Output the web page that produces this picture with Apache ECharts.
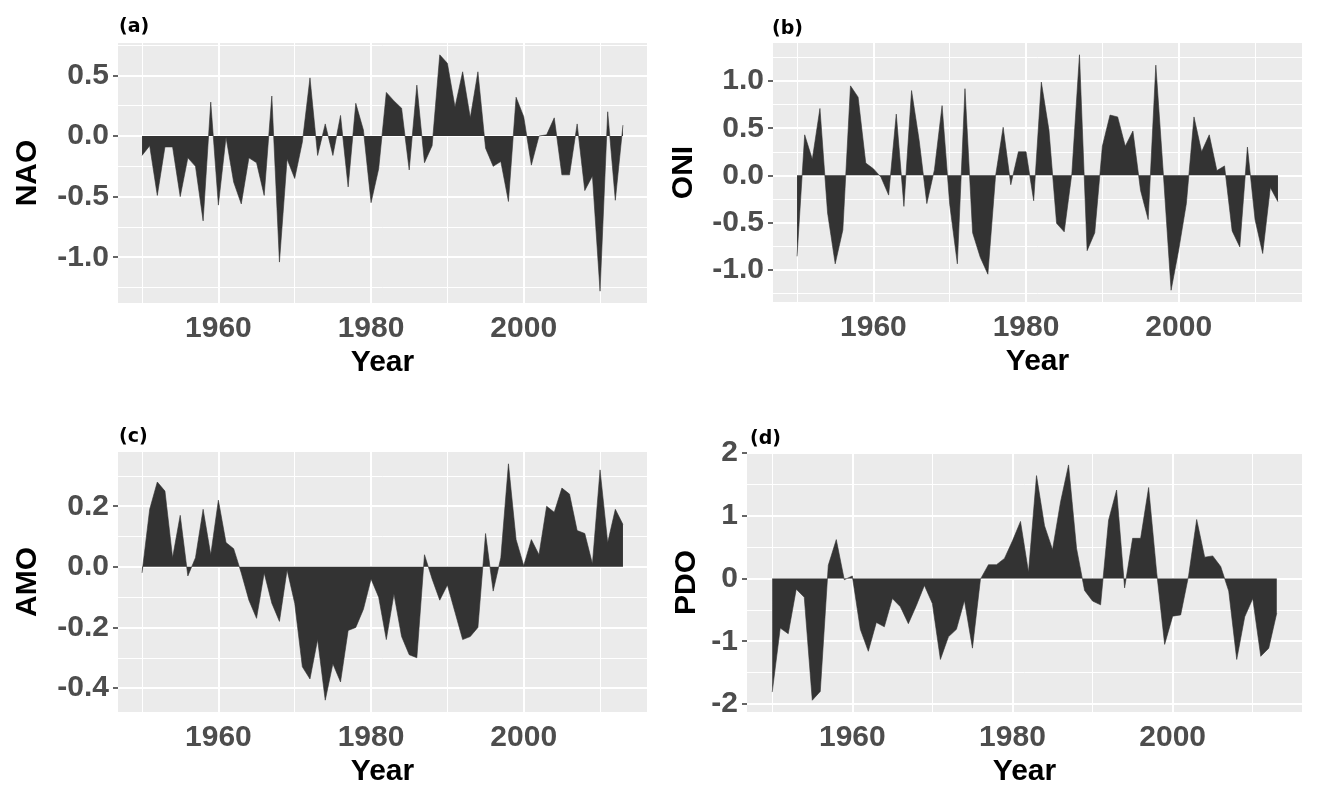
<!DOCTYPE html>
<html><head><meta charset="utf-8">
<script src="https://cdn.jsdelivr.net/npm/echarts@6/dist/echarts.min.js"></script>
<style>html,body{margin:0;padding:0;background:#fff}#c{width:1319px;height:802px}</style>
</head><body><div id="c"></div>
<script>
// ---- data (years 1950-2013) ----
const years = [1950,1951,1952,1953,1954,1955,1956,1957,1958,1959,1960,1961,1962,1963,1964,1965,1966,1967,1968,1969,
  1970,1971,1972,1973,1974,1975,1976,1977,1978,1979,1980,1981,1982,1983,1984,1985,1986,1987,1988,1989,
  1990,1991,1992,1993,1994,1995,1996,1997,1998,1999,2000,2001,2002,2003,2004,2005,2006,2007,2008,2009,
  2010,2011,2012,2013];
const nao = [-0.16,-0.08,-0.49,-0.09,-0.09,-0.50,-0.18,-0.25,-0.70,0.28,-0.57,-0.01,-0.38,-0.56,-0.18,-0.22,-0.49,0.33,-1.04,-0.19,
  -0.35,-0.05,0.48,-0.16,0.10,-0.16,0.17,-0.42,0.27,0.05,-0.55,-0.27,0.36,0.29,0.23,-0.28,0.42,-0.22,-0.08,0.67,
  0.60,0.24,0.53,0.15,0.53,-0.10,-0.25,-0.21,-0.54,0.32,0.16,-0.24,0.00,0.01,0.15,-0.32,-0.32,0.10,-0.45,-0.33,
  -1.28,0.20,-0.53,0.09];
const oni = [-0.86,0.43,0.17,0.71,-0.40,-0.94,-0.58,0.95,0.83,0.13,0.07,-0.02,-0.21,0.65,-0.33,0.90,0.37,-0.30,0.06,0.74,
  -0.31,-0.94,0.92,-0.61,-0.87,-1.05,-0.01,0.51,-0.10,0.25,0.25,-0.27,0.99,0.48,-0.51,-0.60,0.02,1.28,-0.80,-0.61,
  0.31,0.64,0.62,0.31,0.47,-0.16,-0.47,1.17,0.00,-1.22,-0.79,-0.30,0.62,0.25,0.43,0.05,0.10,-0.59,-0.76,0.30,
  -0.47,-0.83,-0.13,-0.28];
const amo = [-0.02,0.19,0.28,0.25,0.03,0.17,-0.03,0.03,0.19,0.04,0.22,0.08,0.06,-0.02,-0.11,-0.17,-0.02,-0.12,-0.18,-0.01,
  -0.12,-0.33,-0.37,-0.24,-0.44,-0.32,-0.38,-0.21,-0.20,-0.14,-0.04,-0.10,-0.24,-0.09,-0.23,-0.29,-0.30,0.04,-0.04,-0.11,
  -0.06,-0.15,-0.24,-0.23,-0.20,0.11,-0.08,0.03,0.34,0.09,0.004,0.09,0.04,0.20,0.18,0.26,0.24,0.12,0.11,0.01,
  0.32,0.08,0.19,0.14];
const pdo = [-1.81,-0.79,-0.88,-0.17,-0.30,-1.94,-1.80,0.21,0.62,-0.02,0.04,-0.81,-1.16,-0.70,-0.77,-0.32,-0.45,-0.72,-0.43,-0.11,
  -0.40,-1.29,-0.93,-0.81,-0.35,-1.11,-0.01,0.22,0.22,0.32,0.60,0.91,0.10,1.64,0.84,0.46,1.22,1.81,0.48,-0.19,
  -0.36,-0.42,0.93,1.41,-0.15,0.64,0.64,1.45,0.10,-1.05,-0.60,-0.58,0.05,0.94,0.34,0.36,0.19,-0.20,-1.29,-0.61,
  -0.32,-1.24,-1.11,-0.55];

// ---- tick labels / breaks ----
const xTicks = [1960, 1980, 2000];
const xMinor = [1950, 1970, 1990, 2010];
const naoTicks = [-1.0, -0.5, 0.0, 0.5];
const naoMinor = [-1.25, -0.75, -0.25, 0.25, 0.75];
const oniTicks = [-1.0, -0.5, 0.0, 0.5, 1.0];
const oniMinor = [-1.25, -0.75, -0.25, 0.25, 0.75, 1.25];
const amoTicks = [-0.4, -0.2, 0.0, 0.2];
const amoMinor = [-0.3, -0.1, 0.1, 0.3];
const pdoTicks = [-2, -1, 0, 1, 2];
const pdoMinor = [-1.5, -0.5, 0.5, 1.5];

const FONT = "'Liberation Sans', Arial, sans-serif";
const panels = [
  {name:'NAO', tag:'(a)', data:nao, ticks:naoTicks, minor:naoMinor, dec:1, grid:{left:118, top:43, width:529, height:260}, nameGap:75, tagPos:{left:119, top:18}},
  {name:'ONI', tag:'(b)', data:oni, ticks:oniTicks, minor:oniMinor, dec:1, grid:{left:773, top:43, width:529, height:259}, nameGap:74, tagPos:{left:772, top:20}},
  {name:'AMO', tag:'(c)', data:amo, ticks:amoTicks, minor:amoMinor, dec:1, grid:{left:118, top:452, width:529, height:260}, nameGap:75, tagPos:{left:119, top:428}},
  {name:'PDO', tag:'(d)', data:pdo, ticks:pdoTicks, minor:pdoMinor, dec:0, grid:{left:747, top:453, width:555, height:259}, nameGap:45, tagPos:{left:750, top:430}, yMax:2.0}
];

function expand(arr) {
  const lo = Math.min(...arr), hi = Math.max(...arr), d = hi - lo;
  return [lo - 0.05 * d, hi + 0.05 * d];
}
const xr = expand(years);

const option = {
  animation: false,
  backgroundColor: '#ffffff',
  title: [], grid: [], xAxis: [], yAxis: [], series: []
};

panels.forEach((p, i) => {
  const yr = expand(p.data);
  if (p.yMax !== undefined) yr[1] = p.yMax;
  option.title.push({text: p.tag, left: p.tagPos.left, top: p.tagPos.top, padding: 0,
    textStyle: {fontFamily: "'DejaVu Sans', sans-serif", fontWeight: 'bold', fontSize: 19, color: '#000'}});
  option.grid.push(Object.assign({show: true, backgroundColor: '#EBEBEB', borderWidth: 0, containLabel: false}, p.grid));
  option.xAxis.push({
    type: 'value', gridIndex: i, min: xr[0], max: xr[1],
    name: 'Year', nameLocation: 'middle', nameGap: 45,
    nameTextStyle: {fontFamily: FONT, fontWeight: 'bold', fontSize: 30, color: '#000'},
    axisLine: {show: false},
    axisTick: {show: true, customValues: xTicks, length: 5, lineStyle: {color: '#333333', width: 1.5}},
    axisLabel: {customValues: xTicks, formatter: v => String(Math.round(v)), fontFamily: FONT, fontWeight: 'bold', fontSize: 30, color: '#4D4D4D', margin: 11},
    splitLine: {show: false}
  });
  option.yAxis.push({
    type: 'value', gridIndex: i, min: yr[0], max: yr[1],
    name: p.name, nameLocation: 'middle', nameGap: p.nameGap,
    nameTextStyle: {fontFamily: FONT, fontWeight: 'bold', fontSize: 30, color: '#000'},
    axisLine: {show: false},
    axisTick: {show: true, customValues: p.ticks, length: 5, lineStyle: {color: '#333333', width: 1.5}},
    axisLabel: {customValues: p.ticks, formatter: v => Number(v).toFixed(p.dec), fontFamily: FONT, fontWeight: 'bold', fontSize: 30, color: '#4D4D4D', margin: 9},
    splitLine: {show: false}
  });
  const pts = years.map((y, k) => [y, p.data[k]]);
  const ml = [];
  xMinor.forEach(v => ml.push({xAxis: v, lineStyle: {color: '#ffffff', width: 1, type: 'solid'}}));
  p.minor.forEach(v => ml.push({yAxis: v, lineStyle: {color: '#ffffff', width: 1, type: 'solid'}}));
  xTicks.forEach(v => ml.push({xAxis: v, lineStyle: {color: '#ffffff', width: 2, type: 'solid'}}));
  p.ticks.forEach(v => ml.push({yAxis: v, lineStyle: {color: '#ffffff', width: 2, type: 'solid'}}));
  option.series.push({
    type: 'line', xAxisIndex: i, yAxisIndex: i, data: pts, symbol: 'none', silent: true, z: 1,
    lineStyle: {opacity: 0},
    markLine: {silent: true, symbol: ['none', 'none'], label: {show: false}, emphasis: {disabled: true}, data: ml}
  });
  option.series.push({
    type: 'line', xAxisIndex: i, yAxisIndex: i, data: pts, symbol: 'none', silent: true, z: 5,
    lineStyle: {width: 0.6, color: '#333333'},
    areaStyle: {color: '#333333', opacity: 1}
  });
});

const chart = echarts.init(document.getElementById('c'), null, {renderer: 'canvas'});
chart.setOption(option);
</script>
</body></html>
